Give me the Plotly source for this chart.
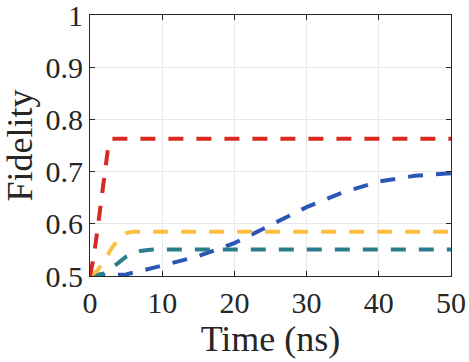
import plotly.graph_objects as go

# fidelity curves
t_red = [0, 0.5, 1, 1.5, 2, 2.5, 3, 50]
f_red = [0.5, 0.535, 0.585, 0.64, 0.70, 0.745, 0.763, 0.763]

t_yellow = [0, 1, 2, 3, 4, 5, 6, 50]
f_yellow = [0.5, 0.51, 0.53, 0.553, 0.572, 0.582, 0.585, 0.585]

t_teal = [0, 2, 3, 4, 5, 6, 7, 8, 9, 50]
f_teal = [0.5, 0.505, 0.515, 0.527, 0.537, 0.544, 0.548, 0.55, 0.551, 0.551]

t_blue = [0, 5, 10, 15, 20, 25, 30, 35, 40, 45, 50]
f_blue = [0.5, 0.503, 0.52, 0.538, 0.563, 0.598, 0.632, 0.66, 0.681, 0.692, 0.697]

x_ticks = [0, 10, 20, 30, 40, 50]
y_ticks = [0.5, 0.6, 0.7, 0.8, 0.9, 1.0]

series = [
    (t_blue, f_blue, "#2A56B5"),
    (t_teal, f_teal, "#2B7C8C"),
    (t_yellow, f_yellow, "#FDBF3F"),
    (t_red, f_red, "#D92A22"),
]

serif = "Liberation Serif, Times New Roman, Times, serif"

fig = go.Figure()
for t, f, c in series:
    fig.add_trace(go.Scatter(x=t, y=f, mode="lines",
                             line=dict(color=c, width=4, dash="15px,13px"),
                             showlegend=False))

axis_style = dict(showline=True, linecolor="#262626", linewidth=1, mirror="ticks",
                  ticks="inside", ticklen=5, tickcolor="#262626",
                  showgrid=True, gridcolor="#E8E8E8", gridwidth=1, zeroline=False,
                  ticklabeloverflow="allow", automargin=False,
                  tickfont=dict(family=serif, size=30, color="#262626"))

fig.update_xaxes(range=[0, 50], tickvals=x_ticks,
                 title=dict(text="Time (ns)", font=dict(family=serif, size=36, color="#262626"), standoff=7),
                 **axis_style)
fig.update_yaxes(range=[0.5, 1.0], tickvals=y_ticks, ticktext=["0.5", "0.6", "0.7", "0.8", "0.9", "1"],
                 title=dict(text="Fidelity", font=dict(family=serif, size=36, color="#262626"), standoff=13),
                 **axis_style)

fig.update_layout(width=469, height=362, margin=dict(l=90, r=18, t=15, b=86),
                  plot_bgcolor="white", paper_bgcolor="white")

# drop the default body margin so the figure sits at the window's corner
fig.write_html("out.html", config={"displayModeBar": False},
               post_script="document.body.style.margin='0';")
